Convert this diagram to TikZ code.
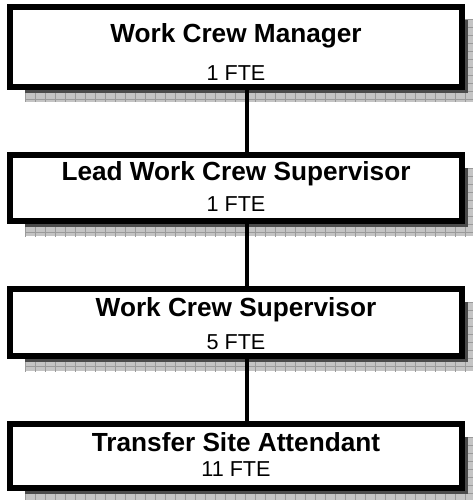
\documentclass[tikz,border=0pt]{standalone}
\usepackage{fontspec}
\setmainfont{Liberation Sans}
\usetikzlibrary{calc,backgrounds}
\definecolor{shadowgray}{HTML}{C4C4C4}
\definecolor{shadowline}{HTML}{9A9A9A}
\definecolor{shadowdark}{HTML}{4A4A4A}
\tikzset{
  orgbox/.style={draw=black, line width=6pt, fill=white, rectangle, inner sep=0pt},
  titletext/.style={font=\fontsize{26.2}{30}\selectfont\bfseries, anchor=base, inner sep=0pt},
  subtext/.style={font=\fontsize{21.6}{24}\selectfont, anchor=base, inner sep=0pt},
  conn/.style={draw=black, line width=4pt},
}
\newcommand\orgshadow[1]{%
  \coordinate (sA) at ($(#1.north west)+(18,16)$);
  \coordinate (sB) at ($(#1.south east)+(18,12)$);
  \fill[shadowgray] (sA) rectangle (sB);
  \begin{scope}
    \clip (sA) rectangle (sB);
    \foreach \k in {0,...,48} {
      \draw[shadowline, line width=1pt] ($(sA)+(10*\k,0)$) -- ($(sA)+(10*\k,120)$);
    }
    \foreach \k in {0,...,12} {
      \draw[shadowline, line width=1pt] ($(sA)+(0,8*\k)$) -- ($(sA)+(500,8*\k)$);
    }
  \end{scope}
  \fill[shadowdark] ($(#1.south west)+(18,0)$) rectangle ($(#1.south east)+(3,3)$);
  \fill[shadowdark] ($(#1.north east)+(0,16)$) rectangle ($(#1.south east)+(3,3)$);
}
\begin{document}
\begin{tikzpicture}[x=1pt,y=-1pt]
\useasboundingbox (0,0) rectangle (472,500);
\coordinate (cx) at (247,0);

\node[orgbox, minimum width=452pt, minimum height=80pt] (b1) at (236,47) {};
\node[orgbox, minimum width=452pt, minimum height=66pt] (b2) at (236,188) {};
\node[orgbox, minimum width=452pt, minimum height=67pt] (b3) at (236,322.5) {};
\node[orgbox, minimum width=452pt, minimum height=64pt] (b4) at (236,456) {};

\begin{scope}[on background layer]
  \fill[white] (0,0) rectangle (472,500);
  \orgshadow{b1}
  \orgshadow{b2}
  \orgshadow{b3}
  \orgshadow{b4}
\end{scope}

\draw[conn] (b1.south -| cx) -- (b2.north -| cx);
\draw[conn] (b2.south -| cx) -- (b3.north -| cx);
\draw[conn] (b3.south -| cx) -- (b4.north -| cx);

\node[titletext] (t1) at (236,43) {Work Crew Manager};
\node[subtext] (s1) at (236,81) {1 FTE};
\node[titletext] (t2) at (236,180) {Lead Work Crew Supervisor};
\node[subtext] (s2) at (236,211) {1 FTE};
\node[titletext] (t3) at (236,316) {Work Crew Supervisor};
\node[subtext] (s3) at (236,349) {5 FTE};
\node[titletext] (t4) at (236,451) {Transfer Site Attendant};
\node[subtext] (s4) at (236,476) {11 FTE};
\end{tikzpicture}
\end{document}
